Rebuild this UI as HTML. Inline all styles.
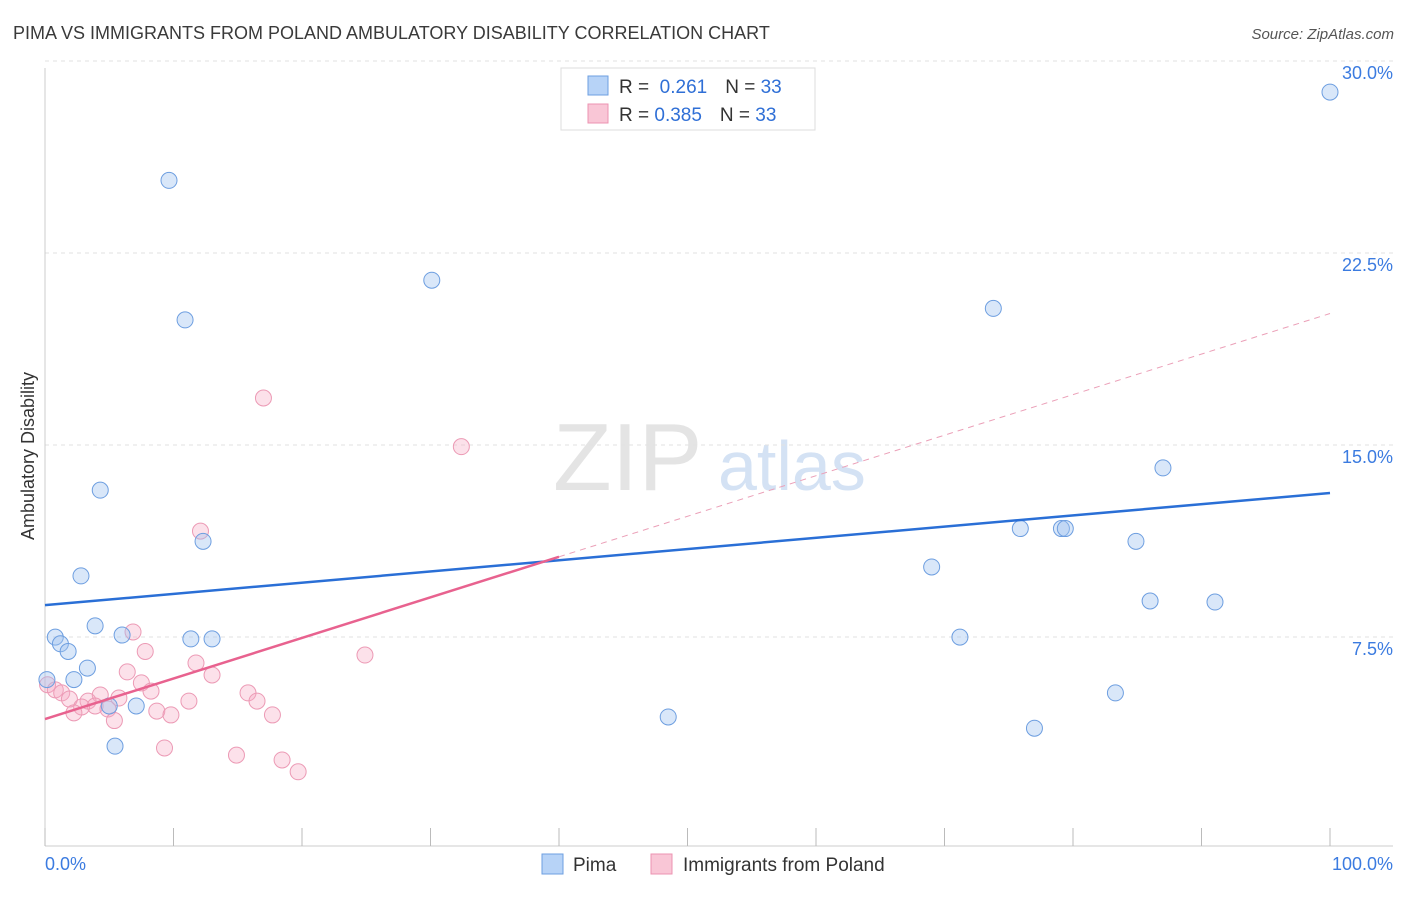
<!DOCTYPE html>
<html><head><meta charset="utf-8"><style>
body{margin:0;background:#fff;font-family:"Liberation Sans",sans-serif;}
svg text{font-family:"Liberation Sans",sans-serif;}
</style></head><body>
<svg id="c" width="1406" height="892" xmlns="http://www.w3.org/2000/svg">
<text x="13" y="39" font-size="18" fill="#3a3a3a">PIMA VS IMMIGRANTS FROM POLAND AMBULATORY DISABILITY CORRELATION CHART</text>
<text x="1394" y="39" font-size="15" fill="#555" font-style="italic" text-anchor="end">Source: ZipAtlas.com</text>
<text transform="translate(34,456) rotate(-90)" font-size="18" fill="#333" text-anchor="middle">Ambulatory Disability</text>
<text x="553" y="490" font-size="96" fill="#e4e4e4" font-family="Liberation Serif">ZIP</text>
<text x="718" y="490" font-size="70" fill="#d4e2f4">atlas</text>
<g id="grid"></g><g id="pts"></g><g id="lines"></g>
<g>
<rect x="561" y="68" width="254" height="62" fill="#fff" stroke="#ddd"/>
<rect x="588" y="76" width="20" height="19" fill="#b7d3f7" stroke="#6e9fe0"/>
<rect x="588" y="104" width="20" height="19" fill="#f9c6d6" stroke="#ec93b1"/>
<text x="619" y="93" font-size="19" fill="#333">R = <tspan fill="#2f6fd6">&#160;0.261</tspan><tspan dx="18" fill="#333">N = </tspan><tspan fill="#2f6fd6">33</tspan></text>
<text x="619" y="121" font-size="19" fill="#333">R = <tspan fill="#2f6fd6">0.385</tspan><tspan dx="18" fill="#333">N = </tspan><tspan fill="#2f6fd6">33</tspan></text>
</g>
<g>
<rect x="542" y="854" width="21" height="20" fill="#b7d3f7" stroke="#6e9fe0"/>
<text x="573" y="871" font-size="19" fill="#333">Pima</text>
<rect x="651" y="854" width="21" height="20" fill="#f9c6d6" stroke="#ec93b1"/>
<text x="683" y="871" font-size="19" fill="#333">Immigrants from Poland</text>
</g>
</svg>
<script>
const yTicks=[7.5,15,22.5,30];
const yTickLabels=["7.5%","15.0%","22.5%","30.0%"];
const pimaX=[100,9.65,30.1,10.9,73.8,87.0,4.3,12.3,75.9,79.1,79.4,84.9,69.0,2.8,86.0,91.05,3.9,0.8,6.0,11.35,13.0,71.2,1.2,1.8,3.3,0.15,2.25,83.3,7.1,5.0,48.5,77.0,5.45];
const pimaY=[29.45,26.0,22.1,20.55,21.0,14.77,13.9,11.9,12.4,12.4,12.4,11.9,10.9,10.55,9.57,9.53,8.6,8.16,8.24,8.09,8.09,8.16,7.9,7.6,6.95,6.5,6.5,5.98,5.47,5.47,5.04,4.6,3.9];
const polX=[17.0,32.4,12.1,6.85,7.8,24.9,11.75,6.4,13.0,7.5,0.2,0.8,1.3,8.25,15.8,1.9,4.3,5.75,3.35,16.5,11.2,3.9,2.85,4.9,8.7,2.25,9.8,17.7,5.4,9.3,14.9,18.45,19.7];
const polY=[17.5,15.6,12.3,8.36,7.6,7.46,7.15,6.8,6.68,6.37,6.3,6.1,5.98,6.05,5.98,5.74,5.9,5.78,5.66,5.66,5.66,5.47,5.43,5.35,5.27,5.2,5.12,5.12,4.9,3.83,3.55,3.36,2.9];
const pimaTrend=[9.41,13.79];
const polTrend=[4.96,20.8];
const polSolidEnd=40;
const xs=v=>45+v*12.85, ys=v=>846-v*25.6;
const NS="http://www.w3.org/2000/svg";
function mk(p,t,a){const e=document.createElementNS(NS,t);for(const k in a)e.setAttribute(k,a[k]);p.appendChild(e);return e;}
const g=document.getElementById('grid');
yTicks.forEach((v,i)=>{
 const l=mk(g,'line',{x1:45,x2:1393,y1:ys(v)-17,y2:ys(v)-17,stroke:'#e2e2e2','stroke-dasharray':'4,4'});
 
 
 const t=mk(g,'text',{x:1393,y:ys(v)+1,'font-size':18,fill:'#3b7be0','text-anchor':'end'});t.textContent=yTickLabels[i];
 
 
});
const ax=mk(g,'line',{x1:45,x2:45,y1:68,y2:846,stroke:'#ccc'});


const bx=mk(g,'line',{x1:45,x2:1393,y1:846,y2:846,stroke:'#ccc'});


for(let i=0;i<=10;i++){const t=mk(g,'line',{x1:xs(i*10),x2:xs(i*10),y1:828,y2:846,stroke:'#bbb'});
 
 }
[[0,"0.0%",'start',45],[100,"100.0%",'end',1393]].forEach(d=>{const t=mk(g,'text',{x:d[3],y:870,'font-size':18,fill:'#3b7be0','text-anchor':d[2]});t.textContent=d[1];
 
 });
const p=document.getElementById('pts');
polX.forEach((x,i)=>{const c=mk(p,'circle',{cx:xs(x),cy:ys(polY[i]),r:8,fill:'rgba(246,170,196,0.35)',stroke:'#ec9ab5','stroke-width':1});
 
 });
pimaX.forEach((x,i)=>{const c=mk(p,'circle',{cx:xs(x),cy:ys(pimaY[i]),r:8,fill:'rgba(160,195,240,0.4)',stroke:'#6d9ee0','stroke-width':1});
 
 });
const L=document.getElementById('lines');
const b=mk(L,'line',{x1:xs(0),y1:ys(pimaTrend[0]),x2:xs(100),y2:ys(pimaTrend[1]),stroke:'#2a6fd6','stroke-width':2.5});


const pv=x=>polTrend[0]+(polTrend[1]-polTrend[0])*x/100;
const s=mk(L,'line',{x1:xs(0),y1:ys(pv(0)),x2:xs(polSolidEnd),y2:ys(pv(polSolidEnd)),stroke:'#e8628f','stroke-width':2.5});


const d=mk(L,'line',{x1:xs(polSolidEnd),y1:ys(pv(polSolidEnd)),x2:xs(100),y2:ys(pv(100)),stroke:'#eba0b8','stroke-width':1,'stroke-dasharray':'6,5'});


</script>
</body></html>
